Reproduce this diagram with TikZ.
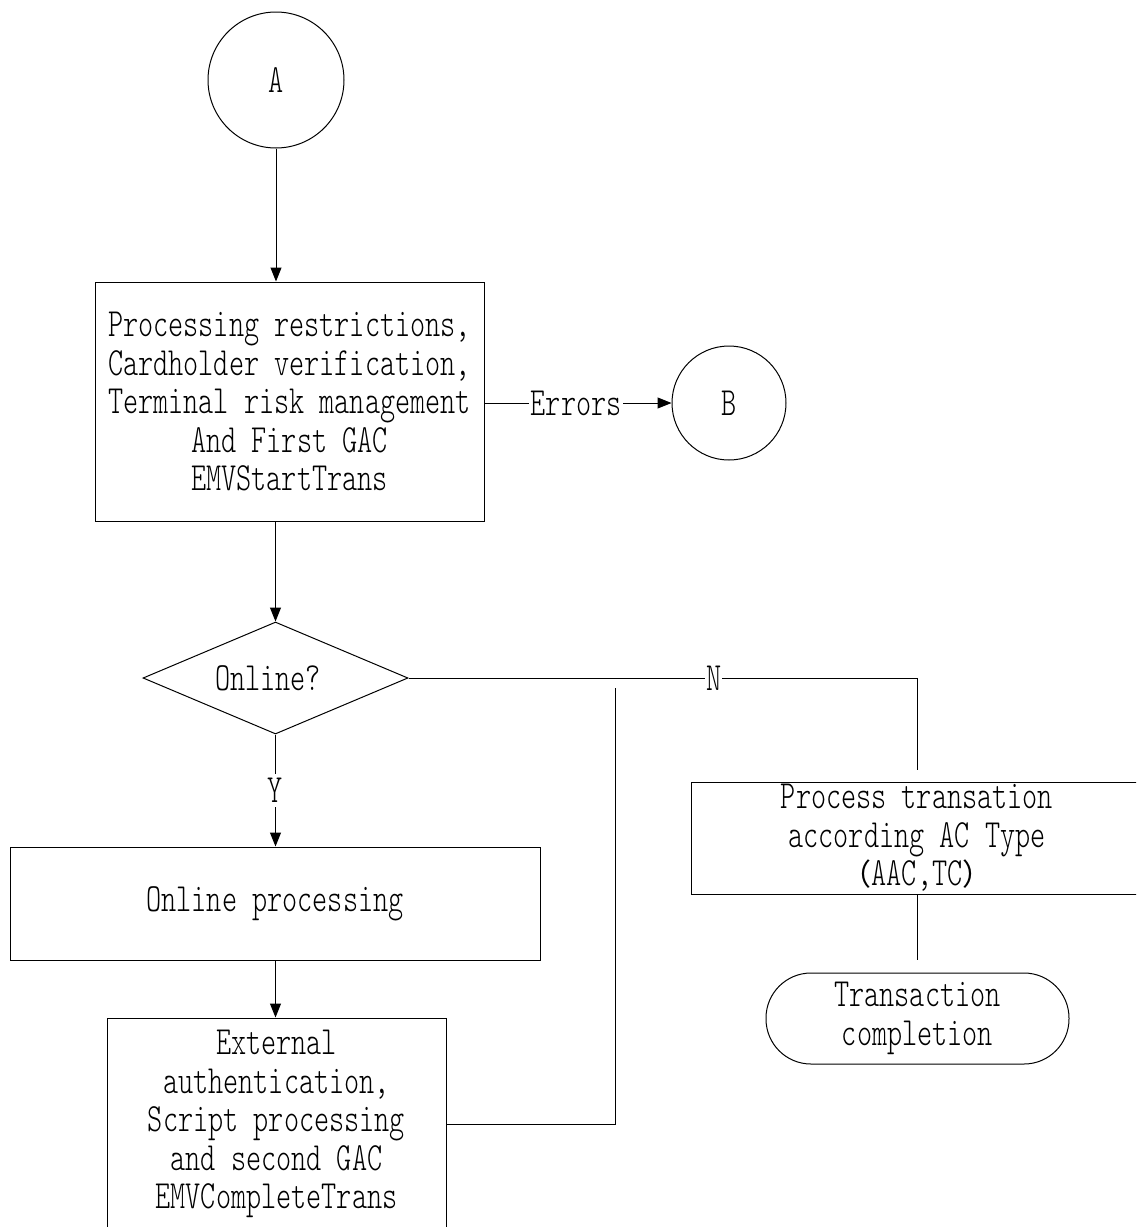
\documentclass[tikz,border=0pt]{standalone}
\usepackage{fontspec}
\newfontfamily\dgfont[FakeStretch=0.72]{lmmonolt10-regular.otf}
\newfontfamily\cjk[Scale=0.75]{Noto Sans CJK SC}
\usetikzlibrary{shapes.geometric,arrows.meta}
\begin{document}
\begin{tikzpicture}[x=1pt,y=-1pt,line width=1pt,
  every node/.style={font=\dgfont\fontsize{40}{38.5}\selectfont,inner sep=0pt},
  box/.style={draw,rectangle,align=center},
  conn/.style={draw,circle},
  term/.style={draw,rectangle,rounded corners=45pt,align=center},
  lbl/.style={fill=white,inner sep=2pt},
  arr/.style={-{Triangle[length=14pt,width=11pt]}}]
\clip (0,0) rectangle (1136,1227);
\fill[white] (0,0) rectangle (1136,1227);
% nodes
\node[conn,minimum size=136pt] (A) at (276,80) {A};
\node[box,minimum width=389pt,minimum height=239pt] (b1) at (289.5,401.5)
  {Processing restrictions,\\Cardholder verification,\\Terminal risk management\\And First GAC\\EMVStartTrans};
\node[conn,minimum size=114pt] (B) at (729,403) {B};
\node[draw,diamond,minimum width=265pt,minimum height=112pt] (d) at (275.5,678) {};
\node (dt) at (268,678) {Online?};
\node[box,minimum width=530pt,minimum height=113pt] (b2) at (275,903.5) {Online processing};
\node[box,minimum width=339pt,minimum height=212pt] (b3) at (276.5,1124)
  {External\\authentication,\\Script processing\\and second GAC\\EMVCompleteTrans};
\node[box,minimum width=452pt,minimum height=112pt] (b4) at (917,838)
  {Process transation\\according AC Type\\{\cjk （}AAC,TC{\cjk ）}};
\node[term,minimum width=303pt,minimum height=91pt] (t) at (917.5,1018.5)
  {Transaction\\completion};
\coordinate (c1) at (615,688);
\coordinate (c2) at (917,770);
\coordinate (c3) at (917,960);
% connectors
\draw[arr] (A.south) -- (A.south |- b1.north);
\draw[arr] (b1.east |- B.west) -- node[lbl,pos=0.49]{Errors} (B.west);
\draw[arr] (d.north |- b1.south) -- (d.north);
\draw[arr] (d.south) -- node[lbl,inner ysep=4pt]{Y} (d.south |- b2.north);
\draw[arr] (d.south |- b2.south) -- (d.south |- b3.north);
\draw (b3.east |- 0,1124) -| (c1);
\draw (d.east) -- node[lbl,pos=0.6,inner sep=1pt]{N} (c2 |- d.east) -- (c2);
\draw (b4.south) -- (c3);
\end{tikzpicture}
\end{document}
